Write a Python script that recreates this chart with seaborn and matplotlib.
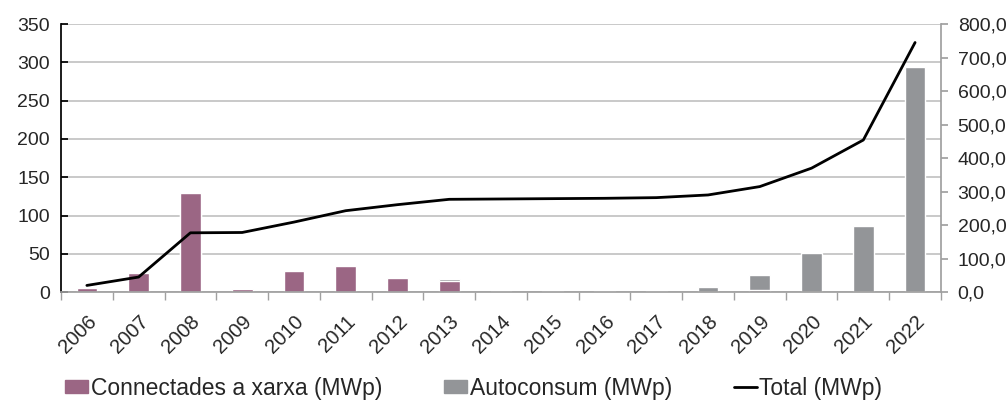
import numpy as np
import pandas as pd
import seaborn as sns
import matplotlib.pyplot as plt
from matplotlib.ticker import FuncFormatter
from matplotlib.patches import Patch
from matplotlib.lines import Line2D

years = ['2006', '2007', '2008', '2009', '2010', '2011', '2012', '2013', '2014',
         '2015', '2016', '2017', '2018', '2019', '2020', '2021', '2022']
xarxa = [5, 25, 129, 4, 28, 34, 18.5, 14.5, 0, 0, 0, 0, 0, 3, 0, 0, 0]
autoconsum = [0, 0, 0, 0, 0, 0, 0, 2.5, 2, 2, 1.5, 2, 7, 20, 50.5, 86, 294]
total = [20, 45, 177, 178, 209, 243, 261, 277, 278, 279, 280, 282, 290, 315, 370, 454, 745]

purple = '#9b6684'
grey = '#939598'

sns.set_theme(style='white')
plt.rcParams['font.family'] = ['Liberation Sans', 'DejaVu Sans']

df = pd.DataFrame({'year': years, 'xarxa': xarxa, 'autoconsum': autoconsum, 'total': total})
df['stack'] = df['xarxa'] + df['autoconsum']

fig = plt.figure(figsize=(10.08, 4.08), dpi=100)
ax = fig.add_axes([0.0605, 0.284, 0.873, 0.657])

# stacked bars: grey full height first, purple drawn over it from the bottom
sns.barplot(data=df, x='year', y='stack', color=grey, width=0.4, saturation=1, ax=ax)
sns.barplot(data=df, x='year', y='xarxa', color=purple, width=0.4, saturation=1, ax=ax)

ax.set_ylim(0, 350)
ax.set_yticks(range(0, 351, 50))
ax.set_xlim(-0.5, len(years) - 0.5)
ax.set_xlabel('')
ax.set_ylabel('')
ax.yaxis.grid(True, color='#c0c0c0', linewidth=1.2)
ax.set_axisbelow(True)

ax.spines['top'].set_visible(False)
ax.spines['right'].set_visible(False)
ax.spines['left'].set_color('black')
ax.spines['bottom'].set_color('#a0a0a0')
ax.tick_params(axis='y', direction='in', length=5, color='black', labelsize=14, pad=8, left=True)
ax.set_xticks(range(len(years)))
ax.set_xticklabels(years, rotation=45, ha='right', rotation_mode='anchor', fontsize=14.5)
ax.tick_params(axis='x', which='major', length=0, pad=14)
ax.set_xticks(np.arange(-0.5, len(years), 1), minor=True)
ax.tick_params(axis='x', which='minor', direction='out', length=6, color='#a0a0a0', bottom=True)

ax2 = ax.twinx()
sns.lineplot(x=np.arange(len(years)), y=total, color='black', linewidth=2, ax=ax2)
ax2.set_ylim(0, 800)
ax2.set_yticks(range(0, 801, 100))
ax2.yaxis.set_major_formatter(FuncFormatter(lambda v, p: f'{v:.1f}'.replace('.', ',')))
for s in ['top', 'left', 'bottom']:
    ax2.spines[s].set_visible(False)
ax2.spines['right'].set_color('#a0a0a0')
ax2.tick_params(axis='y', direction='out', length=5, color='#a0a0a0', labelsize=14, pad=7, right=True)
ax2.set_xlim(-0.5, len(years) - 0.5)

handles = [Patch(color=purple), Patch(color=grey), Line2D([0], [0], color='black', linewidth=2)]
labels = ['Connectades a xarxa (MWp)', 'Autoconsum (MWp)', 'Total (MWp)']
fig.legend(handles, labels, loc='lower center', bbox_to_anchor=(0.47, -0.03), ncol=3,
           frameon=False, fontsize=16.5, handlelength=1.0, handleheight=0.5, handletextpad=0.12,
           columnspacing=2.7)

fig.savefig('out.png', dpi=100)
